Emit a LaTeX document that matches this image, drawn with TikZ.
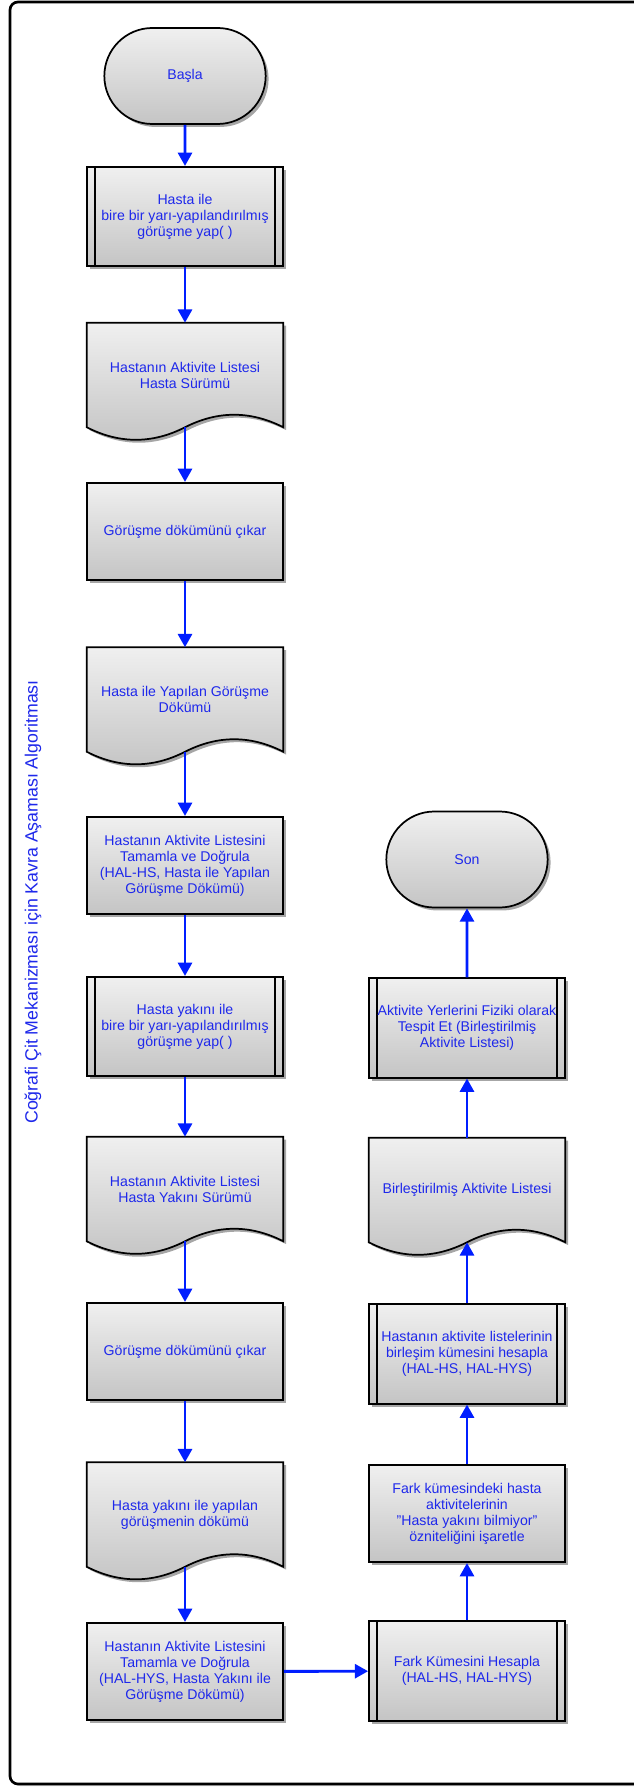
\documentclass[tikz,border=0pt]{standalone}
\usepackage{fontspec}
\setmainfont{Liberation Sans}
\usetikzlibrary{shapes.misc,shadows,arrows.meta,backgrounds}
\definecolor{labelblue}{RGB}{30,40,235}
\definecolor{linkblue}{RGB}{0,30,255}
\tikzset{
  label/.style={text=labelblue, align=center, font=\fontsize{10.6}{12}\selectfont,
    minimum width=147pt, inner sep=2pt},
  base/.style={label, draw=black, line width=1.3pt, top color=black!6, bottom color=black!23,
    drop shadow={shadow xshift=2.2pt,shadow yshift=-2.2pt,opacity=0.35,fill=black}},
  terminal/.style={base, rounded rectangle, minimum width=125pt, minimum height=72pt},
  proc/.style={base, rectangle, minimum height=73pt},
  subproc/.style={base, rectangle, minimum height=74.5pt,
    path picture={
      \draw[line width=1.3pt] ([xshift=6pt]path picture bounding box.north west) -- ([xshift=6pt]path picture bounding box.south west);
      \draw[line width=1.3pt] ([xshift=-6pt]path picture bounding box.north east) -- ([xshift=-6pt]path picture bounding box.south east);}},
  doc/.style={label, rectangle, minimum height=78pt},
  docpath/.style={insert path={(#1.north west) -- (#1.north east) -- (#1.south east)
    .. controls +(-32.7,-16.7) and +(32.7,-16.7) .. (#1.south)
    .. controls +(-32.7,16.7) and +(32.7,16.7) .. (#1.south west) -- cycle}},
  link/.style={draw=linkblue, line width=2.2pt, -{Triangle[width=10.5pt,length=10pt]}}
}
\begin{document}
\begin{tikzpicture}[x=0.75pt,y=-0.75pt]
  \useasboundingbox (0,0) rectangle (634,1787);
  % frame
  \begin{pgfonlayer}{background}
    \draw[line width=2pt, rounded corners=6pt, fill=white,
      drop shadow={shadow xshift=1.5pt,shadow yshift=-1.5pt,opacity=0.3}] (10,2) rectangle (660,1784);
  \end{pgfonlayer}
  \node[rotate=90, text=labelblue, font=\fontsize{13.3}{16}\selectfont] (title) at (33,902) {Coğrafi Çit Mekanizması için Kavra Aşaması Algoritması};

  % left column
  \node[terminal] (start) at (185,76) {Başla};
  \node[subproc] (meet1) at (185,216.5) {Hasta ile\\bire bir yarı-yapılandırılmış\\görüşme yap( )};
  \node[doc] (lisths) at (185,375) {Hastanın Aktivite Listesi\\Hasta Sürümü};
  \node[proc] (trans1) at (185,531.5) {Görüşme dökümünü çıkar};
  \node[doc] (dochs) at (185,699.5) {Hasta ile Yapılan Görüşme\\Dökümü};
  \node[proc] (check1) at (185,865.5) {Hastanın Aktivite Listesini\\Tamamla ve Doğrula\\(HAL-HS, Hasta ile Yapılan\\Görüşme Dökümü)};
  \node[subproc] (meet2) at (185,1026.5) {Hasta yakını ile\\bire bir yarı-yapılandırılmış\\görüşme yap( )};
  \node[doc] (listhys) at (185,1189) {Hastanın Aktivite Listesi\\Hasta Yakını Sürümü};
  \node[proc] (trans2) at (185,1351.5) {Görüşme dökümünü çıkar};
  \node[doc] (dochys) at (185,1514.5) {Hasta yakını ile yapılan\\görüşmenin dökümü};
  \node[proc] (check2) at (185,1671.5) {Hastanın Aktivite Listesini\\Tamamla ve Doğrula\\(HAL-HYS, Hasta Yakını ile\\Görüşme Dökümü)};

  % right column
  \node[subproc] (diff) at (467,1671) {Fark Kümesini Hesapla\\(HAL-HS, HAL-HYS)};
  \node[proc] (mark) at (467,1513.5) {Fark kümesindeki hasta\\aktivitelerinin\\"Hasta yakını bilmiyor"\\özniteliğini işaretle};
  \node[subproc] (union) at (467,1354) {Hastanın aktivite listelerinin\\birleşim kümesini hesapla\\(HAL-HS, HAL-HYS)};
  \node[doc] (merged) at (467,1190) {Birleştirilmiş Aktivite Listesi};
  \node[subproc] (locate) at (467,1028) {Aktivite Yerlerini Fiziki olarak\\Tespit Et (Birleştirilmiş\\Aktivite Listesi)};
  \node[terminal] (stop) at (467,859.5) {Son};

  % document outlines under their labels
  \begin{pgfonlayer}{background}
    \foreach \d in {lisths,dochs,listhys,dochys,merged}{
      \fill[black, opacity=0.35, transform canvas={xshift=2.2pt,yshift=-2.2pt}, docpath=\d];
      \shade[top color=black!6, bottom color=black!23, docpath=\d];
      \draw[line width=1.3pt, docpath=\d];
    }
  \end{pgfonlayer}

  % connectors
  \draw[link] (start) -- (meet1);
  \draw[link] (meet1) -- (lisths);
  \draw[link] (lisths.south) -- (trans1);
  \draw[link] (trans1) -- (dochs);
  \draw[link] (dochs.south) -- (check1);
  \draw[link] (check1) -- (meet2);
  \draw[link] (meet2) -- (listhys);
  \draw[link] (listhys.south) -- (trans2);
  \draw[link] (trans2) -- (dochys);
  \draw[link] (dochys.south) -- (check2);
  \draw[link] (check2) -- (diff);
  \draw[link] (diff) -- (mark);
  \draw[link] (mark) -- (union);
  \draw[link] (union) -- (merged.south);
  \draw[link] (merged) -- (locate);
  \draw[link] (locate) -- (stop);
\end{tikzpicture}
\end{document}
